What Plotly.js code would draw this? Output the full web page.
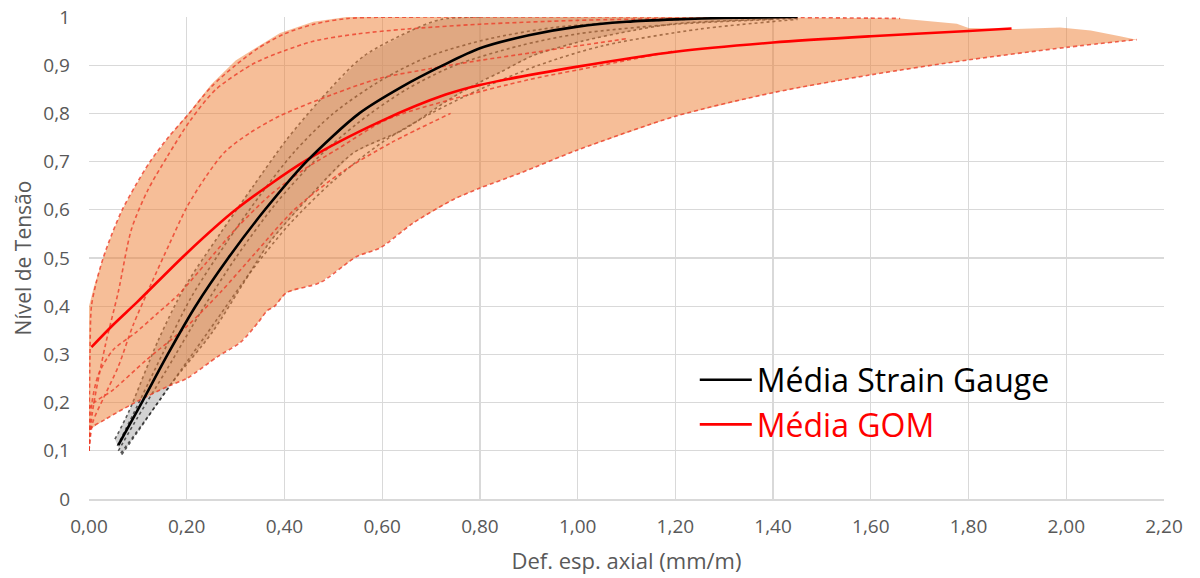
<!DOCTYPE html>
<html>
<head>
<meta charset="utf-8">
<script src="https://cdn.plot.ly/plotly-3.0.1.min.js"></script>
<style>
  html, body { margin: 0; padding: 0; background: #ffffff; }
  #chart { width: 1200px; height: 578px; }
</style>
</head>
<body>
<div id="chart"></div>
<script>
// Mean curves
const sgMeanX = [0.06, 0.108, 0.161, 0.218, 0.285, 0.36, 0.445, 0.553, 0.64, 0.725, 0.80, 0.90, 1.00, 1.10, 1.20, 1.30, 1.45];
const sgMeanY = [0.112, 0.20, 0.30, 0.40, 0.50, 0.60, 0.70, 0.80, 0.855, 0.90, 0.935, 0.962, 0.980, 0.990, 0.995, 0.998, 1.0];
const gomMeanX = [0.005, 0.05, 0.10, 0.20, 0.30, 0.445, 0.60, 0.73, 0.80, 1.00, 1.20, 1.40, 1.60, 1.80, 1.888];
const gomMeanY = [0.315, 0.362, 0.41, 0.51, 0.60, 0.703, 0.785, 0.839, 0.859, 0.897, 0.928, 0.947, 0.960, 0.971, 0.976];

// GOM envelope (upper and lower edges of the shaded region)
const gomUpperX = [0, 0, 0.01, 0.029, 0.047, 0.068, 0.095, 0.125, 0.162, 0.203, 0.25, 0.30, 0.391, 0.459, 0.527, 0.70, 1.00, 1.30, 1.66, 1.776, 1.80, 1.89, 1.987, 2.05, 2.11, 2.144];
const gomUpperY = [0.10, 0.40, 0.44, 0.50, 0.55, 0.60, 0.65, 0.70, 0.75, 0.80, 0.86, 0.91, 0.967, 0.99, 1.0, 1.0, 1.0, 1.0, 0.997, 0.986, 0.977, 0.975, 0.978, 0.972, 0.96, 0.953];
const gomLowerX = [0, 0.002, 0.033, 0.094, 0.162, 0.20, 0.264, 0.31, 0.346, 0.364, 0.38, 0.404, 0.473, 0.548, 0.596, 0.664, 0.745, 0.80, 0.882, 1.00, 1.20, 1.40, 1.60, 1.80, 2.00, 2.144];
const gomLowerY = [0.10, 0.144, 0.165, 0.20, 0.234, 0.25, 0.296, 0.325, 0.366, 0.39, 0.40, 0.428, 0.449, 0.503, 0.521, 0.573, 0.621, 0.645, 0.676, 0.724, 0.794, 0.843, 0.880, 0.911, 0.937, 0.953];

// Individual GOM curves
const gom1X = [0, 0.002, 0.005, 0.015, 0.029, 0.047, 0.068, 0.095, 0.125, 0.162, 0.205, 0.25, 0.30, 0.346, 0.40, 0.46, 0.53, 0.70, 1.00, 1.30, 1.66];
const gom1Y = [0.10, 0.30, 0.40, 0.45, 0.50, 0.55, 0.60, 0.65, 0.70, 0.75, 0.80, 0.855, 0.90, 0.935, 0.965, 0.985, 0.997, 1.0, 1.0, 1.0, 0.997];
const gom2X = [0, 0.007, 0.033, 0.06, 0.087, 0.12, 0.16, 0.207, 0.26, 0.34, 0.40, 0.46, 0.55, 0.65, 0.80, 1.00, 1.20];
const gom2Y = [0.10, 0.18, 0.317, 0.43, 0.56, 0.64, 0.71, 0.785, 0.85, 0.905, 0.93, 0.95, 0.965, 0.975, 0.985, 0.993, 0.997];
const gom3X = [0, 0.008, 0.03, 0.06, 0.09, 0.128, 0.165, 0.20, 0.24, 0.278, 0.33, 0.391, 0.50, 0.596, 0.70, 0.80, 0.90, 1.00, 1.10];
const gom3Y = [0.10, 0.16, 0.21, 0.275, 0.36, 0.448, 0.53, 0.605, 0.67, 0.72, 0.76, 0.795, 0.84, 0.873, 0.893, 0.91, 0.925, 0.94, 0.955];
const gom4X = [0, 0.006, 0.02, 0.05, 0.094, 0.14, 0.183, 0.24, 0.30, 0.37, 0.439, 0.507, 0.609, 0.745, 0.90, 1.05, 1.20];
const gom4Y = [0.10, 0.20, 0.26, 0.31, 0.344, 0.385, 0.424, 0.49, 0.56, 0.63, 0.683, 0.725, 0.787, 0.83, 0.87, 0.90, 0.93];
const gom5X = [0, 0.002, 0.05, 0.118, 0.20, 0.27, 0.34, 0.42, 0.52, 0.62, 0.74];
const gom5Y = [0.10, 0.19, 0.227, 0.289, 0.358, 0.43, 0.51, 0.60, 0.68, 0.74, 0.80];

// Individual strain gauge curves
const sg1X = [0.053, 0.08, 0.142, 0.196, 0.268, 0.336, 0.404, 0.473, 0.561, 0.664, 0.72, 0.80];
const sg1Y = [0.124, 0.178, 0.33, 0.44, 0.55, 0.649, 0.745, 0.828, 0.918, 0.974, 0.995, 1.0];
const sg2X = [0.058, 0.09, 0.15, 0.21, 0.28, 0.35, 0.42, 0.50, 0.60, 0.70, 0.82, 0.95, 1.10, 1.25];
const sg2Y = [0.11, 0.175, 0.30, 0.42, 0.53, 0.63, 0.72, 0.80, 0.87, 0.92, 0.955, 0.978, 0.99, 0.996];
const sg3X = [0.06, 0.10, 0.16, 0.23, 0.30, 0.38, 0.46, 0.55, 0.65, 0.75, 0.88, 1.00, 1.20, 1.40];
const sg3Y = [0.10, 0.17, 0.27, 0.39, 0.50, 0.61, 0.70, 0.78, 0.85, 0.90, 0.94, 0.965, 0.985, 0.995];
const sg4X = [0.065, 0.12, 0.19, 0.26, 0.33, 0.41, 0.50, 0.60, 0.70, 0.80, 0.92, 1.05, 1.25, 1.45];
const sg4Y = [0.095, 0.17, 0.27, 0.37, 0.47, 0.57, 0.66, 0.74, 0.80, 0.85, 0.90, 0.94, 0.975, 0.995];
const sg5X = [0.067, 0.10, 0.169, 0.251, 0.312, 0.37, 0.452, 0.541, 0.643, 0.739, 0.80, 0.841, 0.909, 1.01, 1.113, 1.20, 1.35, 1.45];
const sg5Y = [0.092, 0.14, 0.24, 0.344, 0.441, 0.533, 0.628, 0.718, 0.766, 0.83, 0.865, 0.885, 0.92, 0.95, 0.972, 0.986, 0.994, 0.997];

// Axis tick values
const xTicks = [0, 0.2, 0.4, 0.6, 0.8, 1.0, 1.2, 1.4, 1.6, 1.8, 2.0, 2.2];
const yTicks = [0, 0.1, 0.2, 0.3, 0.4, 0.5, 0.6, 0.7, 0.8, 0.9, 1.0];

const FONT = 'Open Sans, Noto Sans, sans-serif';
const GOM_FILL = 'rgba(237,125,49,0.5)';
const GOM_DASH = 'rgba(236,60,40,0.8)';
const SG_FILL = 'rgba(165,165,165,0.5)';
const SG_DASH = 'rgba(40,40,40,0.75)';

function polygon(ax, ay, bx, by) {
  return {
    x: ax.concat(bx.slice().reverse()),
    y: ay.concat(by.slice().reverse())
  };
}

function dashed(x, y, color, dash) {
  return {
    x: x, y: y, type: 'scatter', mode: 'lines',
    line: { color: color, width: 1.6, dash: dash, shape: 'spline', smoothing: 0.8 },
    showlegend: false, hoverinfo: 'skip'
  };
}

const gomPoly = polygon(gomUpperX, gomUpperY, gomLowerX, gomLowerY);
const sgPoly = polygon(sg1X, sg1Y, sg5X, sg5Y);

// Strain gauge band underneath, GOM band laid over it, means on top
const traces = [
  { x: sgPoly.x, y: sgPoly.y, type: 'scatter', mode: 'lines', fill: 'toself',
    fillcolor: SG_FILL, line: { width: 0, color: SG_FILL }, showlegend: false, hoverinfo: 'skip' },
  dashed(sg1X, sg1Y, SG_DASH, '3px,3px'),
  dashed(sg2X, sg2Y, SG_DASH, '3px,3px'),
  dashed(sg3X, sg3Y, SG_DASH, '3px,3px'),
  dashed(sg4X, sg4Y, SG_DASH, '3px,3px'),
  dashed(sg5X, sg5Y, SG_DASH, '3px,3px'),
  { x: gomPoly.x, y: gomPoly.y, type: 'scatter', mode: 'lines', fill: 'toself',
    fillcolor: GOM_FILL, line: { width: 0, color: GOM_FILL }, showlegend: false, hoverinfo: 'skip' },
  dashed(gom1X, gom1Y, GOM_DASH, '4px,3px'),
  dashed(gom2X, gom2Y, GOM_DASH, '4px,3px'),
  dashed(gom3X, gom3Y, GOM_DASH, '4px,3px'),
  dashed(gom4X, gom4Y, GOM_DASH, '4px,3px'),
  dashed(gom5X, gom5Y, GOM_DASH, '4px,3px'),
  dashed(gomLowerX, gomLowerY, GOM_DASH, '4px,3px'),
  { x: gomMeanX, y: gomMeanY, type: 'scatter', mode: 'lines', name: '<span style="color:#FF0000">Média GOM</span>',
    line: { color: '#FF0000', width: 2.6, shape: 'spline', smoothing: 0.8 }, legendrank: 2, hoverinfo: 'skip' },
  { x: sgMeanX, y: sgMeanY, type: 'scatter', mode: 'lines', name: 'Média Strain Gauge',
    line: { color: '#000000', width: 2.6, shape: 'spline', smoothing: 0.8 }, legendrank: 1, hoverinfo: 'skip' }
];

const layout = {
  width: 1200, height: 578,
  margin: { l: 89, r: 36, t: 17, b: 79 },
  paper_bgcolor: '#ffffff', plot_bgcolor: '#ffffff',
  separators: ', ',
  font: { family: FONT, color: '#595959', size: 19 },
  xaxis: {
    range: [0, 2.2], tickvals: xTicks, tickformat: '.2f',
    showgrid: true, gridcolor: '#d9d9d9', gridwidth: 1.2,
    zeroline: false, showline: true, linecolor: '#d9d9d9', linewidth: 1.5,
    ticks: '', ticklabelstandoff: 10,
    tickfont: { family: FONT, size: 19, color: '#595959' },
    title: { text: 'Def. esp. axial (mm/m)', font: { family: FONT, size: 22, color: '#595959' }, standoff: 15 }
  },
  yaxis: {
    range: [0, 1], tickvals: yTicks,
    showgrid: true, gridcolor: '#d9d9d9', gridwidth: 1.2,
    zeroline: false, showline: false,
    ticks: '', ticklabelstandoff: 18,
    tickfont: { family: FONT, size: 19, color: '#595959' },
    title: { text: 'Nível de Tensão', font: { family: FONT, size: 21, color: '#595959' }, standoff: 5 }
  },
  showlegend: true,
  legend: {
    x: 0.5635, y: 0.304, xanchor: 'left', yanchor: 'top',
    itemwidth: 52,
    bgcolor: 'rgba(0,0,0,0)', borderwidth: 0,
    font: { family: FONT, size: 32, color: '#000000' }
  }
};

Plotly.newPlot('chart', traces, layout, { staticPlot: true, displayModeBar: false });
</script>
</body>
</html>
